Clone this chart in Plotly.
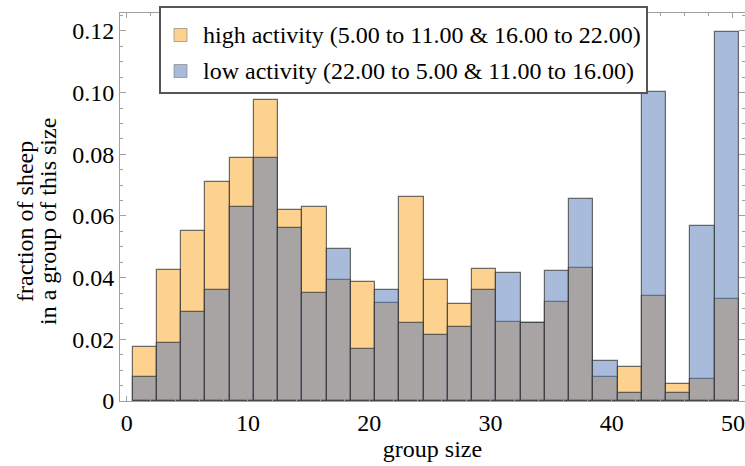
import plotly.graph_objects as go

bin_centers = [1.5, 3.5, 5.5, 7.5, 9.5, 11.5, 13.5, 15.5, 17.5, 19.5, 21.5, 23.5, 25.5,
               27.5, 29.5, 31.5, 33.5, 35.5, 37.5, 39.5, 41.5, 43.5, 45.5, 47.5, 49.5]
high_activity = [0.0176, 0.0425, 0.0551, 0.0711, 0.0787, 0.0976, 0.0619, 0.0630, 0.0392,
                 0.0387, 0.0317, 0.0662, 0.0392, 0.0314, 0.0427, 0.0257, 0.0252, 0.0322,
                 0.0432, 0.0077, 0.0111, 0.0341, 0.0054, 0.0070, 0.0331]
low_activity = [0.0079, 0.0187, 0.0287, 0.0360, 0.0630, 0.0787, 0.0560, 0.0349, 0.0493,
                0.0168, 0.0360, 0.0252, 0.0214, 0.0241, 0.0360, 0.0416, 0.0252, 0.0421,
                0.0655, 0.0131, 0.0027, 0.1003, 0.0027, 0.0568, 0.1195]
names = ["high activity (5.00 to 11.00 & 16.00 to 22.00)",
         "low activity (22.00 to 5.00 & 11.00 to 16.00)"]
y_title_lines = ["fraction of sheep", "in a group of this size"]

FONT = "Liberation Serif, Times New Roman, Times, serif"
FS = 24
ORANGE = "rgba(251,163,30,0.5)"
BLUE = "rgba(85,121,184,0.51)"
EDGE = "rgba(60,60,60,0.75)"

# plot area in pixels (for placing the hand-drawn legend)
L, R, T, B = 120, 745, 13, 401
def px_x(p):
    return (p - L) / (R - L)
def px_y(p):
    return (B - p) / (B - T)

fig = go.Figure()
fig.add_trace(go.Bar(x=bin_centers, y=high_activity, width=2, name=names[0],
                     marker=dict(color=ORANGE, line=dict(color=EDGE, width=1.2))))
fig.add_trace(go.Bar(x=bin_centers, y=low_activity, width=2, name=names[1],
                     marker=dict(color=BLUE, line=dict(color=EDGE, width=1.2))))

axis_common = dict(showline=True, linecolor="#a0a0a0", linewidth=1, mirror="ticks",
                   ticks="inside", tickcolor="#a0a0a0", showgrid=False, zeroline=False,
                   tickfont=dict(family=FONT, size=FS, color="black"))

fig.update_layout(
    width=745, height=466,
    margin=dict(l=L, r=745 - R, t=T, b=466 - B),
    paper_bgcolor="white", plot_bgcolor="white",
    barmode="overlay", bargap=0,
    font=dict(family=FONT, size=FS, color="black"),
    xaxis=dict(range=[-0.55, 51.0], tickvals=[0, 10, 20, 30, 40, 50], ticklen=5,
               minor=dict(dtick=2, tick0=0, ticklen=3, ticks="inside", tickcolor="#a0a0a0"),
               title=dict(text="group size", font=dict(family=FONT, size=FS), standoff=4),
               **axis_common),
    yaxis=dict(range=[0, 0.1258], tickvals=[0, 0.02, 0.04, 0.06, 0.08, 0.10, 0.12],
               ticktext=["0", "0.02", "0.04", "0.06", "0.08", "0.10", "0.12"], ticklen=6,
               minor=dict(dtick=0.005, tick0=0, ticklen=3, ticks="inside", tickcolor="#a0a0a0"),
               **axis_common),
    showlegend=False,
)

# legend box
fig.add_shape(type="rect", xref="paper", yref="paper",
              x0=px_x(160), x1=px_x(647), y0=px_y(93), y1=px_y(7),
              line=dict(color="#555555", width=2), fillcolor="white", layer="above")
for name, col, cy in zip(names, [ORANGE, BLUE], [35, 71]):
    fig.add_shape(type="rect", xref="paper", yref="paper",
                  x0=px_x(174), x1=px_x(187), y0=px_y(cy + 6.5), y1=px_y(cy - 6.5),
                  line=dict(color="rgba(120,120,120,0.6)", width=1), fillcolor=col, layer="above")
    fig.add_annotation(text=name, xref="paper", yref="paper", x=px_x(201), y=px_y(cy),
                       xanchor="left", yanchor="middle", showarrow=False,
                       font=dict(family=FONT, size=FS))

for line, px in zip(y_title_lines, [25, 48]):
    fig.add_annotation(text=line, textangle=-90,
                       xref="paper", yref="paper", x=px_x(px), y=px_y(222),
                       xanchor="center", yanchor="middle", showarrow=False,
                       font=dict(family=FONT, size=FS))

fig.write_html("out.html")
